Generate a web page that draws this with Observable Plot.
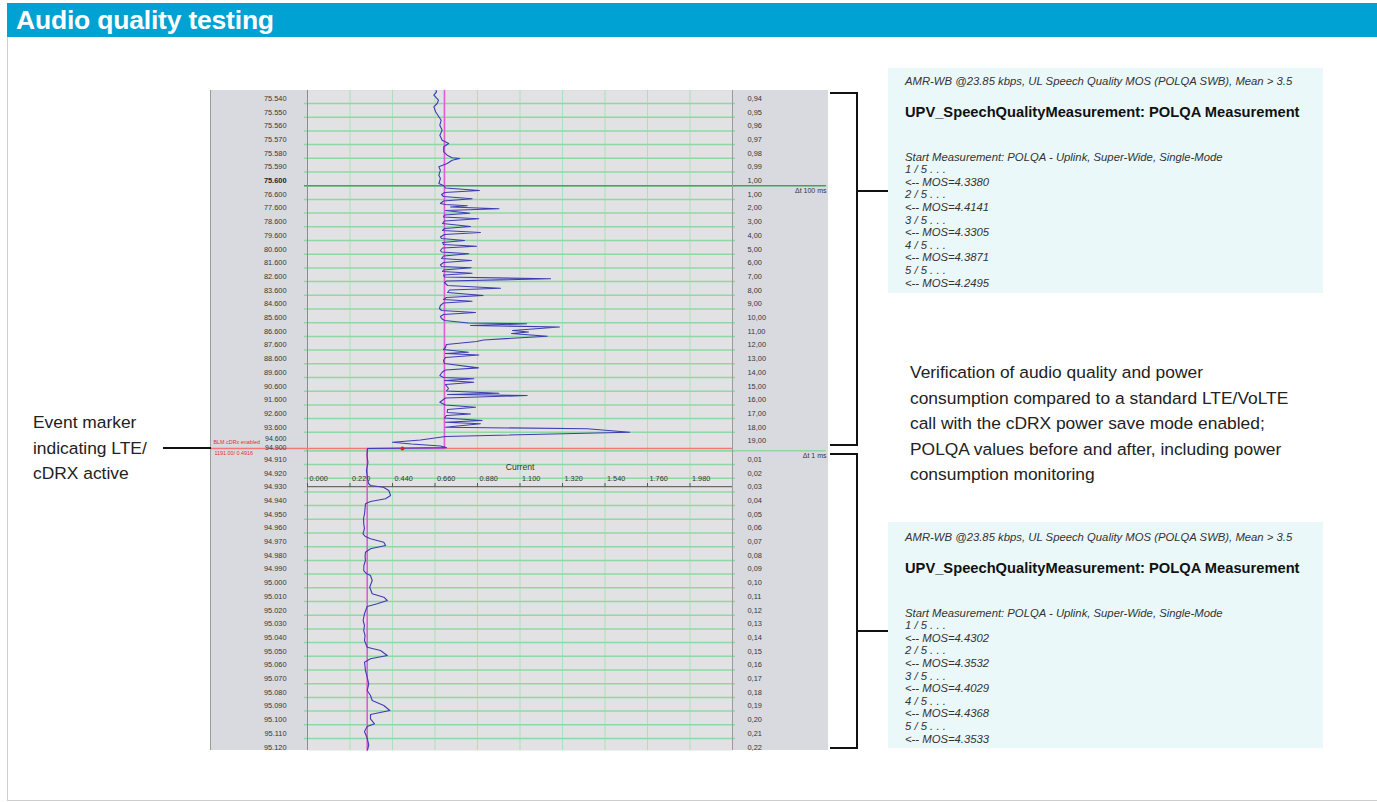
<!DOCTYPE html>
<html><head><meta charset="utf-8">
<script src="https://cdn.jsdelivr.net/npm/d3@7"></script>
<script src="https://cdn.jsdelivr.net/npm/@observablehq/plot@0.6"></script>
<style>
html,body{margin:0;padding:0;background:#fff;}
#page{position:relative;width:1377px;height:802px;overflow:hidden;font-family:"Liberation Sans",Arial,sans-serif;color:#222;}
#header{position:absolute;left:7px;top:3px;width:1370px;height:34px;background:#00a2d3;}
#header h1{margin:0;position:absolute;left:9px;top:3px;font-size:26.5px;font-weight:bold;color:#fff;line-height:28px;letter-spacing:-0.2px;}
.hline{position:absolute;background:#111;}
#frameL{position:absolute;left:7px;top:37px;width:1px;height:763px;background:#cfcfcf;}
#frameB{position:absolute;left:7px;top:800px;width:1370px;height:1px;background:#cfcfcf;}
#chart{position:absolute;left:211px;top:90px;width:617px;height:660px;}
#chartEdge{position:absolute;left:210px;top:90px;width:1px;height:660px;background:#9a9a9a;}
.bracket{position:absolute;left:830px;width:26px;border:2px solid #111;border-left:none;}
.box{position:absolute;left:888px;width:435px;background:#ebf8fa;color:#222;}
.box .sub{position:absolute;left:17px;font-style:italic;font-size:11.3px;line-height:14px;white-space:nowrap;color:#333;}
.box .ttl{position:absolute;left:17px;font-weight:bold;font-size:14.7px;line-height:18px;white-space:nowrap;color:#111;}
.box .log{position:absolute;left:17px;font-style:italic;font-size:11.3px;line-height:12.6px;white-space:nowrap;color:#333;}
.note{position:absolute;font-size:17.4px;line-height:25.6px;white-space:nowrap;color:#222;}
</style>
</head><body>
<div id="page">
  <div id="header"><h1>Audio quality testing</h1></div>
  <div id="frameL"></div><div id="frameB"></div>
  <div id="chartEdge"></div>
  <div id="chart"></div>

  <div class="note" id="noteLeft" style="left:33px;top:410px;"></div>
  <div class="hline" style="left:163px;top:447px;width:48px;height:2px;"></div>

  <div class="bracket" style="top:92px;height:350px;"></div>
  <div class="hline" style="left:858px;top:190px;width:30px;height:2px;"></div>
  <div class="bracket" style="top:453px;height:292px;"></div>
  <div class="hline" style="left:858px;top:630px;width:30px;height:2px;"></div>

  <div class="box" id="box1" style="top:68px;height:225px;"></div>
  <div class="box" id="box2" style="top:522px;height:226px;"></div>

  <div class="note" id="noteRight" style="left:910px;top:360px;"></div>
</div>
<script>
// ---------- data ----------
const leftTickLabels = ["75.540","75.550","75.560","75.570","75.580","75.590","75.600",
  "76.600","77.600","78.600","79.600","80.600","81.600","82.600","83.600","84.600","85.600",
  "86.600","87.600","88.600","89.600","90.600","91.600","92.600","93.600",
  "94.600","94.900",
  "94.910","94.920","94.930","94.940","94.950","94.960","94.970","94.980","94.990","95.000",
  "95.010","95.020","95.030","95.040","95.050","95.060","95.070","95.080","95.090","95.100",
  "95.110","95.120"];
const leftTickRows = [0,1,2,3,4,5,6,
  7,8,9,10,11,12,13,14,15,16,17,18,19,20,21,22,23,24,
  25,25.35,
  26.35,27.35,28.35,29.35,30.35,31.35,32.35,33.35,34.35,35.35,
  36.35,37.35,38.35,39.35,40.35,41.35,42.35,43.35,44.35,45.35,46.35,47.35];
const rightTickLabels = ["0,94","0,95","0,96","0,97","0,98","0,99","1,00",
  "1,00","2,00","3,00","4,00","5,00","6,00","7,00","8,00","9,00","10,00",
  "11,00","12,00","13,00","14,00","15,00","16,00","17,00","18,00","19,00",
  "0,01","0,02","0,03","0,04","0,05","0,06","0,07","0,08","0,09","0,10",
  "0,11","0,12","0,13","0,14","0,15","0,16","0,17","0,18","0,19","0,20","0,21","0,22"];
const rightTickRows = [0,1,2,3,4,5,6,
  7,8,9,10,11,12,13,14,15,16,17,18,19,20,21,22,23,24,25,
  26.35,27.35,28.35,29.35,30.35,31.35,32.35,33.35,34.35,35.35,
  36.35,37.35,38.35,39.35,40.35,41.35,42.35,43.35,44.35,45.35,46.35,47.35];
const xTicks = [0, 0.22, 0.44, 0.66, 0.88, 1.10, 1.32, 1.54, 1.76, 1.98];
const xDomain = [0, 2.2];
const rowDomain = [-0.949, 47.226];
const sectionRows = [6, 25.35];
const sectionLabels = ["\u0394t 100 ms", "\u0394t 1 ms"];
const eventRow = 25.18;
const eventCurrent = 0.4916;
const eventTexts = ["BLM cDRx enabled", "1191.00/ 0.4916"];
const meanCurrent = [0.709, 0.309];   // before / after the event
const axisRow = 27.96;
const axisTitle = "Current";

// current trace: [row, current (A)]
const currentTrace = [
[-0.95,0.666],[-0.854,0.668],[-0.606,0.654],[-0.241,0.678],[0,0.671],[0.241,0.654],[0.606,0.663],
[0.971,0.680],[1.219,0.692],[1.584,0.685],[1.949,0.697],[2.314,0.685],[2.679,0.697],[2.920,0.731],
[3.161,0.705],[3.526,0.705],[3.774,0.723],[3.964,0.749],[4.015,0.788],[4.139,0.749],[4.380,0.723],
[4.620,0.680],[4.869,0.688],[5.234,0.680],[5.474,0.688],[5.839,0.680],[6.007,0.706],[6.168,0.714],
[6.350,0.890],[6.496,0.709],[6.642,0.694],[6.788,0.704],[6.956,0.852],[7.117,0.704],[7.299,0.688],
[7.372,0.714],[7.467,0.827],[7.555,0.740],[7.686,0.991],[7.810,0.714],[8.007,0.840],[8.139,0.709],
[8.285,0.704],[8.416,0.887],[8.577,0.709],[8.759,0.699],[8.978,0.844],[9.124,0.709],[9.270,0.699],
[9.416,0.895],[9.562,0.709],[9.745,0.688],[9.854,0.694],[10.000,0.813],[10.146,0.699],[10.292,0.704],
[10.416,0.875],[10.547,0.699],[10.730,0.688],[10.839,0.694],[10.971,0.835],[11.131,0.704],[11.314,0.694],
[11.460,0.849],[11.606,0.704],[11.788,0.688],[11.898,0.694],[11.993,0.847],[12.153,0.704],[12.263,0.699],
[12.387,0.852],[12.518,0.704],[12.664,0.709],[12.796,1.258],[12.956,0.719],[13.066,0.709],[13.285,0.725],
[13.482,0.999],[13.613,0.735],[13.796,0.725],[14.015,0.909],[14.161,0.719],[14.307,0.704],[14.431,0.852],
[14.562,0.704],[14.745,0.688],[14.964,0.683],[15.109,0.694],[15.255,0.870],[15.401,0.704],[15.547,0.688],
[15.693,0.694],[15.839,0.709],[16.022,0.833],[16.080,1.134],[16.204,0.844],[16.314,1.304],[16.569,1.061],
[16.679,1.144],[16.788,1.056],[16.985,1.241],[17.263,0.911],[17.372,0.875],[17.591,0.719],[17.810,0.714],
[17.956,0.704],[18.153,0.833],[18.248,0.714],[18.358,0.887],[18.540,0.714],[18.759,0.704],[18.978,0.709],
[19.300,0.885],[19.450,0.714],[19.613,0.697],[19.854,0.685],[20.000,0.704],[20.095,0.861],[20.219,0.709],
[20.343,0.861],[20.511,0.714],[20.803,0.730],[20.985,0.719],[21.146,0.991],[21.241,0.725],[21.314,1.137],
[21.496,0.714],[21.803,0.685],[22.007,0.714],[22.168,0.870],[22.336,0.725],[22.555,0.723],[22.664,0.844],
[22.774,0.719],[22.956,0.709],[23.139,0.904],[23.263,0.714],[23.380,0.895],[23.628,0.714],[23.745,1.448],
[23.993,1.668],[24.307,0.714],[24.562,0.585],[24.722,0.440],[24.854,0.538],[25.000,0.688],[25.120,0.719],
[25.182,0.311],
[25.693,0.308],[26.204,0.313],[26.788,0.305],[27.372,0.311],[27.737,0.316],[27.883,0.326],[28.007,0.393],
[28.248,0.421],[28.613,0.430],[28.854,0.404],[29.051,0.326],[29.219,0.300],[29.562,0.298],[29.949,0.295],
[30.292,0.290],[30.679,0.291],[31.022,0.295],[31.409,0.287],[31.606,0.300],[31.774,0.326],[32.022,0.395],
[32.263,0.404],[32.504,0.326],[32.752,0.300],[33.066,0.298],[33.358,0.300],[33.723,0.292],[34.088,0.291],
[34.307,0.305],[34.453,0.326],[34.818,0.335],[35.307,0.322],[35.788,0.335],[36.036,0.395],[36.277,0.413],
[36.518,0.361],[36.715,0.309],[37.248,0.295],[37.737,0.288],[38.102,0.295],[38.467,0.291],[38.832,0.298],
[39.197,0.295],[39.686,0.309],[39.927,0.378],[40.292,0.413],[40.533,0.326],[40.781,0.295],[41.095,0.298],
[41.387,0.300],[41.876,0.309],[42.358,0.317],[42.847,0.309],[43.212,0.326],[43.577,0.335],[43.942,0.395],
[44.307,0.426],[44.599,0.326],[44.912,0.326],[45.277,0.347],[45.474,0.309],[45.839,0.295],[46.328,0.309],
[46.810,0.317],[47.299,0.309]
];

// text content
const pageTitle = "Audio quality testing";
const leftNote = ["Event marker", "indicating LTE/", "cDRX active"];
const rightNote = ["Verification of audio quality and power",
  "consumption compared to a standard LTE/VoLTE",
  "call with the cDRX power save mode enabled;",
  "POLQA values before and after, including power",
  "consumption monitoring"];
const boxSub = "AMR-WB @23.85 kbps, UL Speech Quality MOS (POLQA SWB), Mean > 3.5";
const boxTitle = "UPV_SpeechQualityMeasurement: POLQA Measurement";
const boxStart = "Start Measurement: POLQA - Uplink, Super-Wide, Single-Mode";
const mosBefore = ["4.3380", "4.4141", "4.3305", "4.3871", "4.2495"];
const mosAfter  = ["4.4302", "4.3532", "4.4029", "4.4368", "4.3533"];

// ---------- text blocks ----------
document.querySelector("#header h1").textContent = pageTitle;
document.getElementById("noteLeft").innerHTML = leftNote.join("<br>");
document.getElementById("noteRight").innerHTML = rightNote.join("<br>");
function fillBox(el, mos, off) {
  const esc = s => s.replace(/&/g,"&amp;").replace(/</g,"&lt;").replace(/>/g,"&gt;");
  const lines = [boxStart];
  mos.forEach((m, i) => { lines.push(`${i+1} / ${mos.length} . . .`); lines.push(`<-- MOS=${m}`); });
  el.innerHTML = `<div class="sub" style="top:${6+off}px">${esc(boxSub)}</div>` +
    `<div class="ttl" style="top:${35+off}px">${esc(boxTitle)}</div>` +
    `<div class="log" style="top:${82.7+off}px">${lines.map(esc).join("<br>")}</div>`;
}
fillBox(document.getElementById("box1"), mosBefore, 0);
fillBox(document.getElementById("box2"), mosAfter, 2);

// ---------- chart ----------
const leftTicks = leftTickLabels.map((label, i) => ({label, row: leftTickRows[i]}));
const rightTicks = rightTickLabels.map((label, i) => ({label, row: rightTickRows[i]}));
const gridRows = leftTicks
  .filter(d => d.label !== "94.600" && d.row <= rowDomain[1])
  .map(d => d.row);
const trace = currentTrace.map(([row, current]) => ({row, current}));
const meanPath = [
  {row: rowDomain[0], current: meanCurrent[0]},
  {row: eventRow, current: meanCurrent[0]},
  {row: eventRow, current: meanCurrent[1]},
  {row: rowDomain[1], current: meanCurrent[1]}
];
const sections = sectionLabels.map((label, i) => ({label, row: sectionRows[i]}));
const labelFill = "#363636";
const squeezed = ["94.600", "94.900"];  // the two labels squeezed together at the event
const leftPlain = leftTicks.filter(d => d.label !== "75.600" && !squeezed.includes(d.label));

const chart = Plot.plot({
  width: 617, height: 660,
  marginLeft: 96, marginRight: 96, marginTop: 0, marginBottom: 0,
  x: {domain: xDomain, axis: null},
  y: {domain: rowDomain, range: [0, 660], axis: null},
  style: {background: "#d9dadf", fontFamily: "'Liberation Sans', Arial, sans-serif", overflow: "visible"},
  marks: [
    Plot.frame({fill: "#e2e2e4", stroke: null}),
    Plot.ruleX(xTicks.slice(1), {stroke: "#a9e2b8", strokeWidth: 1}),
    Plot.ruleY(gridRows, {stroke: "#8fd8a3", strokeWidth: 1.5, insetLeft: -3, insetRight: -3}),
    Plot.ruleY([sectionRows[1]], {stroke: "#8fd8a3", strokeWidth: 1.6, insetLeft: -3, insetRight: -94}),
    Plot.ruleY([sectionRows[0]], {stroke: "#3fa35f", strokeWidth: 1.6, insetLeft: -3, insetRight: -94}),
    Plot.ruleX([xDomain[0]], {stroke: "#8c8c8c", strokeWidth: 1}),
    Plot.ruleX([xDomain[1]], {stroke: "#9a9a9a", strokeWidth: 1}),
    Plot.ruleY([eventRow], {stroke: "#f07878", strokeWidth: 1.4, insetLeft: -96}),
    // mid-plot x axis
    Plot.ruleY([axisRow], {stroke: "#6b6b6b", strokeWidth: 1.2}),
    Plot.ruleX(xTicks, {x: d => d, y1: axisRow - 0.22, y2: axisRow + 0.05, stroke: "#555", strokeWidth: 1}),
    Plot.text(xTicks, {x: d => d, y: axisRow, text: d => d.toFixed(3), textAnchor: "start", dx: 2, dy: -7.5, fontSize: 7.3, fill: labelFill}),
    Plot.text([axisTitle], {x: (xDomain[0] + xDomain[1]) / 2, y: axisRow, text: d => d, dy: -19.5, fontSize: 8.6, fill: "#333"}),
    // mean current (magenta) and current trace (blue)
    Plot.line(meanPath, {x: "current", y: "row", stroke: "#e25ccf", strokeWidth: 1.6}),
    Plot.line(trace, {x: "current", y: "row", stroke: "#3d3db3", strokeWidth: 1.1, clip: true}),
    Plot.dot([eventCurrent], {x: d => d, y: eventRow, r: 2, fill: "#e52222"}),
    // row labels
    Plot.text(leftPlain, {y: "row", text: "label", frameAnchor: "left", dx: -21, dy: -5, textAnchor: "end", fontSize: 7.4, fill: labelFill}),
    Plot.text(leftTicks.filter(d => d.label === squeezed[0]), {y: "row", text: "label", frameAnchor: "left", dx: -21, dy: -6.8, textAnchor: "end", fontSize: 7, fill: labelFill}),
    Plot.text(leftTicks.filter(d => d.label === squeezed[1]), {y: "row", text: "label", frameAnchor: "left", dx: -21, dy: -3, textAnchor: "end", fontSize: 7, fill: labelFill}),
    Plot.text(leftTicks.filter(d => d.label === "75.600"), {y: "row", text: "label", frameAnchor: "left", dx: -21, dy: -5, textAnchor: "end", fontSize: 7.4, fontWeight: "bold", fill: "#222"}),
    Plot.text(rightTicks, {y: "row", text: "label", frameAnchor: "right", dx: 15, dy: -5, textAnchor: "start", fontSize: 7.4, fill: labelFill}),
    Plot.text(sections, {y: "row", text: "label", frameAnchor: "right", dx: 94, dy: 4.6, textAnchor: "end", fontSize: 7, fill: "#333"}),
    // event marker texts
    Plot.text([eventTexts[0]], {y: eventRow, text: d => d, frameAnchor: "left", dx: -94, dy: -6, textAnchor: "start", fontSize: 5.4, fill: "#e53030"}),
    Plot.text([eventTexts[1]], {y: eventRow, text: d => d, frameAnchor: "left", dx: -93, dy: 4.6, textAnchor: "start", fontSize: 5.4, fill: "#e53030"})
  ]
});
document.getElementById("chart").appendChild(chart);
</script>
</body></html>
